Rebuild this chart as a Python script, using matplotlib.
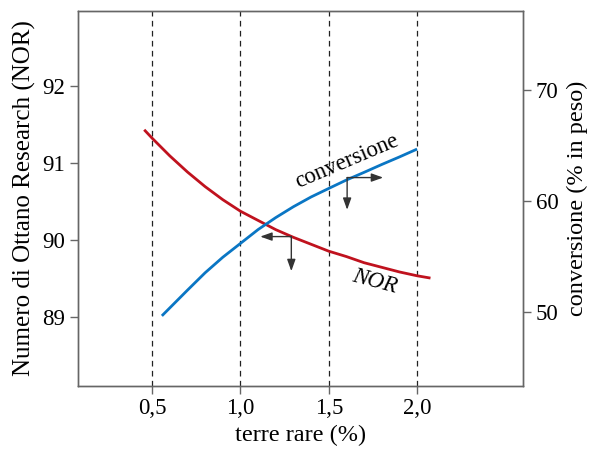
import matplotlib
matplotlib.use("Agg")
import matplotlib.pyplot as plt

plt.rcParams['font.family'] = ['Liberation Serif', 'DejaVu Serif']

# data
nor_x = [0.455, 0.5, 0.6, 0.7, 0.8, 0.9, 1.0, 1.1, 1.2, 1.3, 1.4, 1.5,
         1.6, 1.7, 1.8, 1.9, 2.0, 2.076]
nor_y = [91.43, 91.32, 91.09, 90.88, 90.69, 90.52, 90.37, 90.25, 90.13, 90.03,
         89.94, 89.85, 89.78, 89.70, 89.64, 89.58, 89.53, 89.50]

conv_x = [0.555, 0.6, 0.7, 0.8, 0.9, 1.0, 1.1, 1.2, 1.3, 1.4, 1.5,
          1.6, 1.7, 1.8, 1.9, 2.0]
conv_y = [49.62, 50.34, 51.94, 53.51, 54.91, 56.16, 57.41, 58.49, 59.47, 60.35,
          61.12, 61.88, 62.57, 63.28, 63.96, 64.67]

x_ticks = [0.5, 1.0, 1.5, 2.0]
x_ticklabels = ["0,5", "1,0", "1,5", "2,0"]
left_ticks = [89, 90, 91, 92]
right_ticks = [50, 60, 70]

red = "#c0121e"
blue = "#0a76c4"
frame = "#666666"

fig = plt.figure(figsize=(5.93, 4.53), dpi=100)
ax = fig.add_axes([0.1315, 0.1486, 0.7505, 0.8271])
ax2 = ax.twinx()

ax.set_xlim(0.08, 2.60)
ax.set_ylim(88.10, 92.975)
ax2.set_ylim(43.32, 77.13)

for xv in x_ticks:
    ax.axvline(xv, color="#222222", lw=0.9, ls=(0, (4.5, 3.5)), zorder=1)

ax.plot(nor_x, nor_y, color=red, lw=2.0, solid_capstyle="butt", zorder=3)
ax2.plot(conv_x, conv_y, color=blue, lw=2.0, solid_capstyle="butt", zorder=3)

ax.set_xticks(x_ticks)
ax.set_xticklabels(x_ticklabels)
ax.set_yticks(left_ticks)
ax2.set_yticks(right_ticks)

tfs = 16.5
lfs = 17.5
for a in (ax, ax2):
    for s in a.spines.values():
        s.set_color(frame)
        s.set_linewidth(1.0)
    a.tick_params(labelsize=tfs, color=frame, length=6, width=1.0, direction="out", pad=3)

ax.set_xlabel("terre rare (%)", fontsize=lfs, labelpad=4)
ax.set_ylabel("Numero di Ottano Research (NOR)", fontsize=lfs + 0.5, labelpad=5)
ax2.set_ylabel("conversione (% in peso)", fontsize=lfs, labelpad=6)

ax2.text(1.605, 63.52, "conversione", fontsize=16.5, rotation=23,
         ha="center", va="center", rotation_mode="anchor", zorder=5)
ax.text(1.758, 89.46, "NOR", fontsize=16.5, rotation=-15, style="italic",
        ha="center", va="center", rotation_mode="anchor", zorder=5)

ap = dict(arrowstyle="-|>,head_length=0.7,head_width=0.25", color="#333333", lw=1.0,
          shrinkA=0, shrinkB=0)
# conversione arrows (right axis)
ax2.annotate("", xy=(1.808, 62.10), xytext=(1.604, 62.10), arrowprops=ap, zorder=4)
ax2.annotate("", xy=(1.604, 59.19), xytext=(1.604, 62.10), arrowprops=ap, zorder=4)
# NOR arrows (left axis)
ax.annotate("", xy=(1.112, 90.04), xytext=(1.288, 90.04), arrowprops=ap, zorder=4)
ax.annotate("", xy=(1.288, 89.59), xytext=(1.288, 90.04), arrowprops=ap, zorder=4)

fig.savefig("out.png", dpi=100)
